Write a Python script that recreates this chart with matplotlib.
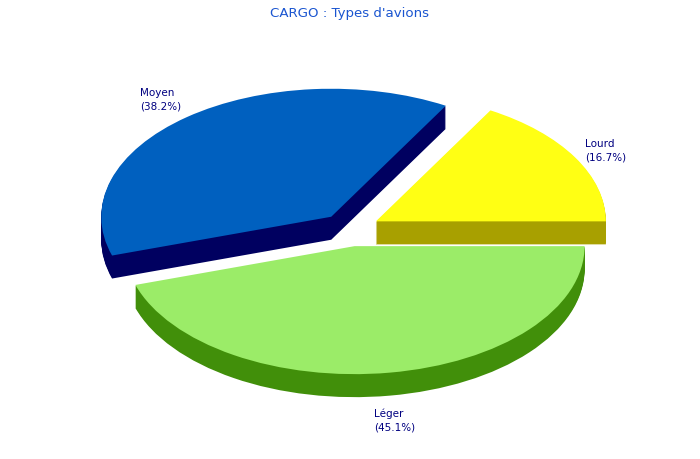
import matplotlib
matplotlib.use('Agg')
import matplotlib.pyplot as plt

slices = ['Lourd', 'Moyen', 'Léger']
percents = [16.7, 38.2, 45.1]
top_colors = ['#ffff14', '#0060bf', '#9bec68']
side_colors = ['#a8a000', '#000060', '#418f0a']

# ellipse of the pie in pixels
RX, RY, CX, CY = 230, 128, 350, 230.7
DEPTH = 23
W, H = 700, 460

fig = plt.figure(figsize=(W / 100, H / 100), dpi=100, facecolor='white')
ax = fig.add_axes([0, 0, 1, 1])

explode = [0.13, 0.13, 0.13]
flat = {'linewidth': 0}
# stack of darker pies going down gives the 3d side
for d in range(DEPTH, 0, -1):
	ax.pie(percents, explode=explode, colors=side_colors, center=(0, -d / RY), wedgeprops=flat, normalize=True)
ax.pie(percents, explode=explode, colors=top_colors, wedgeprops=flat, normalize=True)

ax.set_aspect('auto')
ax.set_xlim(-CX / RX, (W - CX) / RX)
ax.set_ylim((CY - H) / RY, CY / RY)
ax.axis('off')

label_pos = [(585, 150.5), (140, 99.5), (374, 420.5)]
for name, pct, (px, py) in zip(slices, percents, label_pos):
	fig.text(px / W, 1 - py / H, f'{name}\n({pct:.1f}%)', color='#000080', fontsize=7.5,
		family='DejaVu Sans', ha='left', va='center', linespacing=1.4)

fig.text(349 / W, 1 - 13 / H, "CARGO : Types d'avions", color='#1a55d0', fontsize=9.6,
	family='DejaVu Sans', ha='center', va='center')

fig.savefig('out.png', dpi=100, facecolor='white')
